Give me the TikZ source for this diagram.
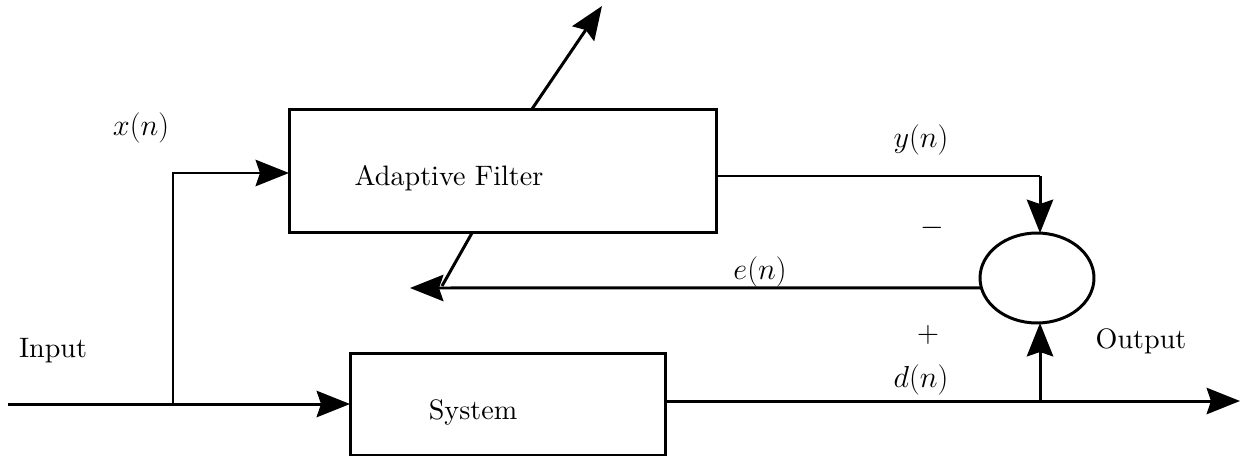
\documentclass[tikz,border=0pt]{standalone}
\usepackage{fontspec}
\setmainfont{lmroman10-regular.otf}
\usetikzlibrary{arrows.meta,shapes.geometric}
\tikzset{
  blk/.style={draw, line width=1.7pt, fill=white, inner sep=0pt, outer sep=0pt},
  wire/.style={line width=1.7pt},
  arr/.style={wire, -{Stealth[length=19pt,width=15pt,inset=2.5pt]}},
  lbl/.style={inner sep=0pt, font=\fontsize{16}{19}\selectfont}
}
\begin{document}
\begin{tikzpicture}[x=0.02cm, y=-0.02cm]
  \useasboundingbox (0,0) rectangle (1244,457);

  % blocks
  \node[blk, minimum width=8.56cm, minimum height=2.46cm] (af) at (503,171) {};
  \node[blk, minimum width=6.32cm, minimum height=2.04cm] (sys) at (508,404) {};
  \node[blk, ellipse, minimum width=2.28cm, minimum height=1.8cm] (sum) at (1037,278) {};

  % block captions
  \node[lbl] (aft) at (449,178) {Adaptive Filter};
  \node[lbl] (syst) at (473,412) {System};

  % signal labels
  \node[lbl] (xl) at (141,128) {$x(n)$};
  \node[lbl] (yl) at (921,140) {$y(n)$};
  \node[lbl] (el) at (760,272) {$e(n)$};
  \node[lbl] (dl) at (921,380) {$d(n)$};
  \node[lbl] (mi) at (932,228) {$-$};
  \node[lbl] (pl) at (928,335) {$+$};
  \node[lbl] (inl) at (53,351) {Input};
  \node[lbl] (outl) at (1141,341) {Output};

  % junction points
  \coordinate (in) at (8,404);
  \coordinate (br) at (173,404);
  \coordinate (afin) at (289,173);
  \coordinate (yout) at (717,176);
  \coordinate (ycorner) at (1040,176);
  \coordinate (dtap) at (1040,401);
  \coordinate (dout) at (666,401);
  \coordinate (out) at (1240,401);
  \coordinate (eend) at (410,288);
  \coordinate (adjlo) at (472,233);
  \coordinate (adjloend) at (442,286);
  \coordinate (adjhi) at (532,109);
  \coordinate (adjtip) at (602,6);

  % input and branch to the filter
  \draw[arr] (in) -- (sys.west);
  \draw[arr] (br) |- (afin);

  % filter output to the summing junction
  \draw[wire] (yout) -- (ycorner);
  \draw[arr] (ycorner) -- (ycorner |- sum.north);

  % system output and desired signal
  \draw[arr] (dout) -- (out);
  \draw[arr] (dtap) -- (dtap |- sum.south);

  % error signal fed back
  \draw[arr] (sum.190) -- (eend);

  % adaptation arrow through the filter
  \draw[wire] (adjlo) -- (adjloend);
  \draw[arr] (adjhi) -- (adjtip);
\end{tikzpicture}
\end{document}
